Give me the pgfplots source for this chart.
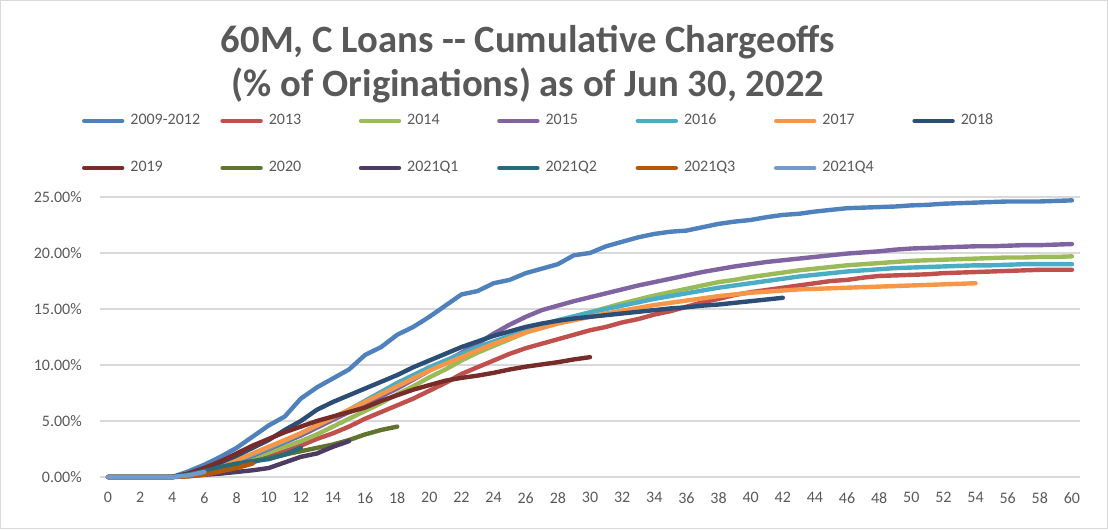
\documentclass[border=0pt]{standalone}
\usepackage{pgfplots}
\pgfplotsset{compat=1.18}
\usepackage{pgfplotstable}
\usepackage{fontspec}
\setmainfont{Carlito}
\definecolor{txt}{HTML}{595959}
\definecolor{gridc}{HTML}{D9D9D9}
\definecolor{cA}{HTML}{4F81BD}
\definecolor{cB}{HTML}{C0504D}
\definecolor{cC}{HTML}{9BBB59}
\definecolor{cD}{HTML}{8064A2}
\definecolor{cE}{HTML}{4BACC6}
\definecolor{cF}{HTML}{F79646}
\definecolor{cG}{HTML}{2C4D75}
\definecolor{cH}{HTML}{772C2A}
\definecolor{cI}{HTML}{5F7530}
\definecolor{cJ}{HTML}{4D3B62}
\definecolor{cK}{HTML}{276A7C}
\definecolor{cL}{HTML}{B65708}
\definecolor{cM}{HTML}{729ACA}

\pgfplotstableread{
m A B C D E F G H I J K L M
0 0 0 0 0 0 0 0 0 0 0 0 0 0
1 0 0 0 0 0 0 0 0 0 0 0 0 0
2 0 0 0 0 0 0 0 0 0 0 0 0 0
3 0 0 0 0 0 0 0 0 0 0 0 0 0
4 0 0 0 0 0 0 0 0 0 0 0 0 0
5 0.5 0.1 0.1 0.2 0.2 0.2 0.3 0.3 0.2 0.1 0.2 0.05 0.15
6 1.1 0.3 0.4 0.5 0.5 0.5 0.8 0.8 0.5 0.2 0.5 0.2 0.45
7 1.8 0.6 0.8 0.9 1.0 1.0 1.3 1.4 0.8 0.3 0.9 0.5 nan
8 2.6 0.9 1.2 1.4 1.5 1.5 1.9 2.1 1.1 0.45 1.2 0.8 nan
9 3.6 1.3 1.7 1.9 2.0 2.1 2.6 2.8 1.4 0.6 1.4 1.2 nan
10 4.6 1.8 2.2 2.5 2.6 2.7 3.3 3.4 1.7 0.8 1.6 nan nan
11 5.4 2.3 2.7 3.1 3.2 3.3 4.2 4.0 2.0 1.3 2.0 nan nan
12 7.0 2.8 3.2 3.7 3.9 3.9 5.0 4.5 2.3 1.8 2.6 nan nan
13 8.0 3.4 3.8 4.4 4.6 4.6 6.0 5.0 2.6 2.1 nan nan nan
14 8.8 3.9 4.5 5.1 5.3 5.3 6.7 5.4 2.9 2.7 nan nan nan
15 9.6 4.5 5.2 5.8 6.0 6.0 7.3 5.8 3.3 3.2 nan nan nan
16 10.9 5.2 5.9 6.5 6.8 6.7 7.9 6.2 3.8 nan nan nan nan
17 11.6 5.8 6.6 7.2 7.6 7.4 8.5 6.8 4.2 nan nan nan nan
18 12.7 6.4 7.4 7.9 8.4 8.1 9.1 7.3 4.5 nan nan nan nan
19 13.4 7.0 8.1 8.7 9.1 8.8 9.8 7.8 nan nan nan nan nan
20 14.3 7.7 8.9 9.5 9.8 9.5 10.4 8.2 nan nan nan nan nan
21 15.3 8.4 9.6 10.3 10.4 10.1 11.0 8.6 nan nan nan nan nan
22 16.3 9.2 10.4 11.1 11.0 10.7 11.6 8.85 nan nan nan nan nan
23 16.6 9.8 11.1 11.9 11.6 11.3 12.1 9.05 nan nan nan nan nan
24 17.3 10.4 11.7 12.8 12.1 11.9 12.6 9.3 nan nan nan nan nan
25 17.6 11.0 12.3 13.6 12.6 12.4 13.0 9.6 nan nan nan nan nan
26 18.2 11.5 12.9 14.3 13.1 12.9 13.4 9.85 nan nan nan nan nan
27 18.6 11.9 13.4 14.9 13.6 13.3 13.7 10.05 nan nan nan nan nan
28 19.0 12.3 13.9 15.3 14.0 13.7 13.95 10.25 nan nan nan nan nan
29 19.8 12.7 14.3 15.7 14.35 14.0 14.15 10.5 nan nan nan nan nan
30 20.0 13.1 14.7 16.05 14.7 14.3 14.3 10.7 nan nan nan nan nan
31 20.6 13.4 15.1 16.4 15.0 14.6 14.45 nan nan nan nan nan nan
32 21.0 13.8 15.5 16.75 15.3 14.85 14.6 nan nan nan nan nan nan
33 21.4 14.1 15.85 17.1 15.6 15.1 14.75 nan nan nan nan nan nan
34 21.7 14.5 16.2 17.4 15.9 15.35 14.9 nan nan nan nan nan nan
35 21.9 14.8 16.5 17.7 16.15 15.55 15.05 nan nan nan nan nan nan
36 22.0 15.2 16.8 18.0 16.4 15.75 15.15 nan nan nan nan nan nan
37 22.3 15.6 17.1 18.3 16.65 15.95 15.3 nan nan nan nan nan nan
38 22.6 15.9 17.4 18.55 16.9 16.15 15.4 nan nan nan nan nan nan
39 22.8 16.25 17.6 18.8 17.1 16.3 15.55 nan nan nan nan nan nan
40 22.95 16.5 17.85 19.0 17.3 16.45 15.7 nan nan nan nan nan nan
41 23.2 16.7 18.05 19.2 17.5 16.55 15.85 nan nan nan nan nan nan
42 23.4 16.9 18.25 19.35 17.7 16.65 16.0 nan nan nan nan nan nan
43 23.5 17.1 18.45 19.5 17.9 16.75 nan nan nan nan nan nan nan
44 23.7 17.3 18.6 19.65 18.05 16.8 nan nan nan nan nan nan nan
45 23.85 17.5 18.75 19.8 18.2 16.85 nan nan nan nan nan nan nan
46 24.0 17.6 18.9 19.95 18.35 16.9 nan nan nan nan nan nan nan
47 24.05 17.8 19.0 20.05 18.45 16.95 nan nan nan nan nan nan nan
48 24.1 17.95 19.1 20.15 18.55 17.0 nan nan nan nan nan nan nan
49 24.15 18.0 19.2 20.3 18.65 17.05 nan nan nan nan nan nan nan
50 24.25 18.05 19.3 20.4 18.7 17.1 nan nan nan nan nan nan nan
51 24.3 18.1 19.35 20.45 18.75 17.15 nan nan nan nan nan nan nan
52 24.4 18.2 19.4 20.5 18.8 17.2 nan nan nan nan nan nan nan
53 24.45 18.25 19.45 20.55 18.85 17.25 nan nan nan nan nan nan nan
54 24.5 18.3 19.5 20.6 18.9 17.3 nan nan nan nan nan nan nan
55 24.55 18.35 19.55 20.6 18.9 nan nan nan nan nan nan nan nan
56 24.6 18.4 19.6 20.65 18.95 nan nan nan nan nan nan nan nan
57 24.6 18.45 19.6 20.7 19.0 nan nan nan nan nan nan nan nan
58 24.6 18.5 19.65 20.7 19.0 nan nan nan nan nan nan nan nan
59 24.65 18.5 19.65 20.75 19.0 nan nan nan nan nan nan nan nan
60 24.7 18.5 19.7 20.8 19.0 nan nan nan nan nan nan nan nan
}\data

\newcommand{\lf}{\fontsize{12}{14}\selectfont}
\newcommand{\legtxt}[1]{\makebox[66pt][l]{#1}}

\begin{document}
\begin{tikzpicture}
\path[use as bounding box] (-75pt,-39pt) rectangle (756pt,357.75pt);
\draw[gridc, line width=0.75pt] (-74.6pt,-38.6pt) rectangle (755.6pt,357.35pt);
\begin{axis}[
  at={(0pt,0pt)}, anchor=south west,
  scale only axis, width=735pt, height=210pt,
  xmin=-0.5, xmax=60.5, ymin=0, ymax=25,
  xtick={0,2,...,60}, ytick={0,5,...,25},
  ymajorgrids, grid style={gridc, line width=1.1pt},
  axis line style={draw=none},
  major tick length=0pt,
  clip=false,
  tick label style={font=\lf, text=txt},
  /pgf/number format/assume math mode=true,
  yticklabel={\pgfmathprintnumber[fixed,fixed zerofill,precision=2]{\tick}\%},
  yticklabel style={anchor=east, inner sep=0pt, xshift=-13.5pt},
  xticklabel style={anchor=center, inner sep=0pt, yshift=-15.5pt},
  every axis plot/.append style={line width=3.3pt, line join=round, line cap=round},
  legend columns=7,
  legend cell align=left,
  legend image code/.code={\draw[#1] (1.5pt,0pt) -- (30pt,0pt); \path (0pt,0pt) (34.5pt,0pt);},
  legend style={at={(-0.0204,1.3)}, anchor=north west, draw=none, fill=none,
    inner sep=0pt, outer sep=0pt, row sep=23.25pt, column sep=0pt,
    nodes={inner sep=0pt, text=txt, font=\lf, text height=9pt, text depth=3pt}},
]
\addplot[cA] table[x=m,y=A]{\data}; \addlegendentry{\legtxt{2009-2012}}
\addplot[cB] table[x=m,y=B]{\data}; \addlegendentry{\legtxt{2013}}
\addplot[cC] table[x=m,y=C]{\data}; \addlegendentry{\legtxt{2014}}
\addplot[cD] table[x=m,y=D]{\data}; \addlegendentry{\legtxt{2015}}
\addplot[cE] table[x=m,y=E]{\data}; \addlegendentry{\legtxt{2016}}
\addplot[cF] table[x=m,y=F]{\data}; \addlegendentry{\legtxt{2017}}
\addplot[cG] table[x=m,y=G]{\data}; \addlegendentry{\legtxt{2018}}
\addplot[cH] table[x=m,y=H]{\data}; \addlegendentry{\legtxt{2019}}
\addplot[cI] table[x=m,y=I]{\data}; \addlegendentry{\legtxt{2020}}
\addplot[cJ] table[x=m,y=J]{\data}; \addlegendentry{\legtxt{2021Q1}}
\addplot[cK] table[x=m,y=K]{\data}; \addlegendentry{\legtxt{2021Q2}}
\addplot[cL] table[x=m,y=L]{\data}; \addlegendentry{\legtxt{2021Q3}}
\addplot[cM] table[x=m,y=M]{\data}; \addlegendentry{\legtxt{2021Q4}}
\end{axis}
\node[anchor=base, font=\fontsize{29}{34}\selectfont\bfseries, text=txt, inner sep=0pt] at (321pt,318.5pt) {60M, C Loans -{}- Cumulative Chargeoffs};
\node[anchor=base, font=\fontsize{29}{34}\selectfont\bfseries, text=txt, inner sep=0pt] at (321pt,285pt) {(\% of Originations) as of Jun 30, 2022};
\end{tikzpicture}
\end{document}
